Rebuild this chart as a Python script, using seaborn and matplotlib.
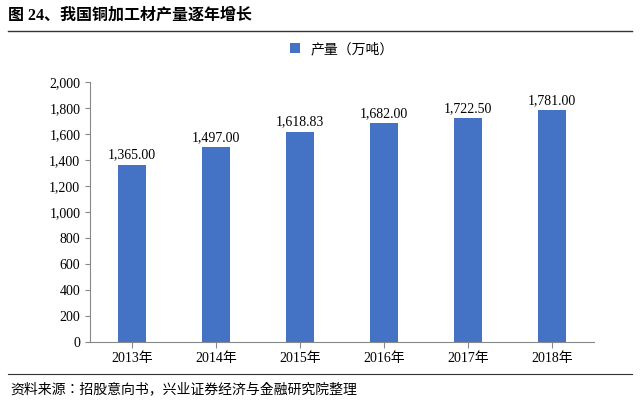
import pandas as pd
import seaborn as sns
import matplotlib.pyplot as plt
from matplotlib.lines import Line2D
from matplotlib.ticker import FuncFormatter

plt.rcParams["font.family"] = ["Liberation Serif", "Noto Sans CJK SC", "Noto Sans CJK JP",
                               "Noto Sans CJK TC", "Noto Sans CJK KR", "DejaVu Sans"]

# data
years = ["2013年", "2014年", "2015年", "2016年", "2017年", "2018年"]
output = [1365.00, 1497.00, 1618.83, 1682.00, 1722.50, 1781.00]
df = pd.DataFrame({"year": years, "output": output})

fig = plt.figure(figsize=(6.4, 4.04), dpi=100)
ax = fig.add_axes([90 / 640, 1 - 342 / 404, 504 / 640, 260 / 404])

sns.barplot(data=df, x="year", y="output", color="#4472C4", width=0.34,
            saturation=1, ax=ax, label="产量（万吨）")

for i, v in enumerate(output):
    ax.text(i, v + 25, f"{v:,.2f}", ha="center", va="bottom", fontsize=10)

ax.set_ylim(0, 2000)
ax.set_yticks(range(0, 2001, 200))
ax.yaxis.set_major_formatter(FuncFormatter(lambda v, p: f"{int(v):,}"))
ax.set_xlabel("")
ax.set_ylabel("")
for s in ["top", "right"]:
    ax.spines[s].set_visible(False)
ax.spines["left"].set_color("#888888")
ax.spines["bottom"].set_color("#888888")
ax.tick_params(axis="both", labelsize=10, color="#888888")
ax.tick_params(axis="x", length=4)

ax.legend(loc="upper center", bbox_to_anchor=(0.5, 1.2), frameon=False,
          fontsize=10, handlelength=0.7, handleheight=0.7)

fig.text(8 / 640, 1 - 16 / 404, "图 24、我国铜加工材产量逐年增长", fontsize=11.5,
         fontweight="bold", va="center")
fig.add_artist(Line2D([8 / 640, 632 / 640], [1 - 31 / 404] * 2, color="#333333", lw=1))
fig.add_artist(Line2D([8 / 640, 632 / 640], [1 - 374 / 404] * 2, color="#333333", lw=0.8))
fig.text(10 / 640, 1 - 389 / 404, "资料来源：招股意向书，兴业证券经济与金融研究院整理",
         fontsize=10, va="center")

fig.savefig("out.png", dpi=100)
